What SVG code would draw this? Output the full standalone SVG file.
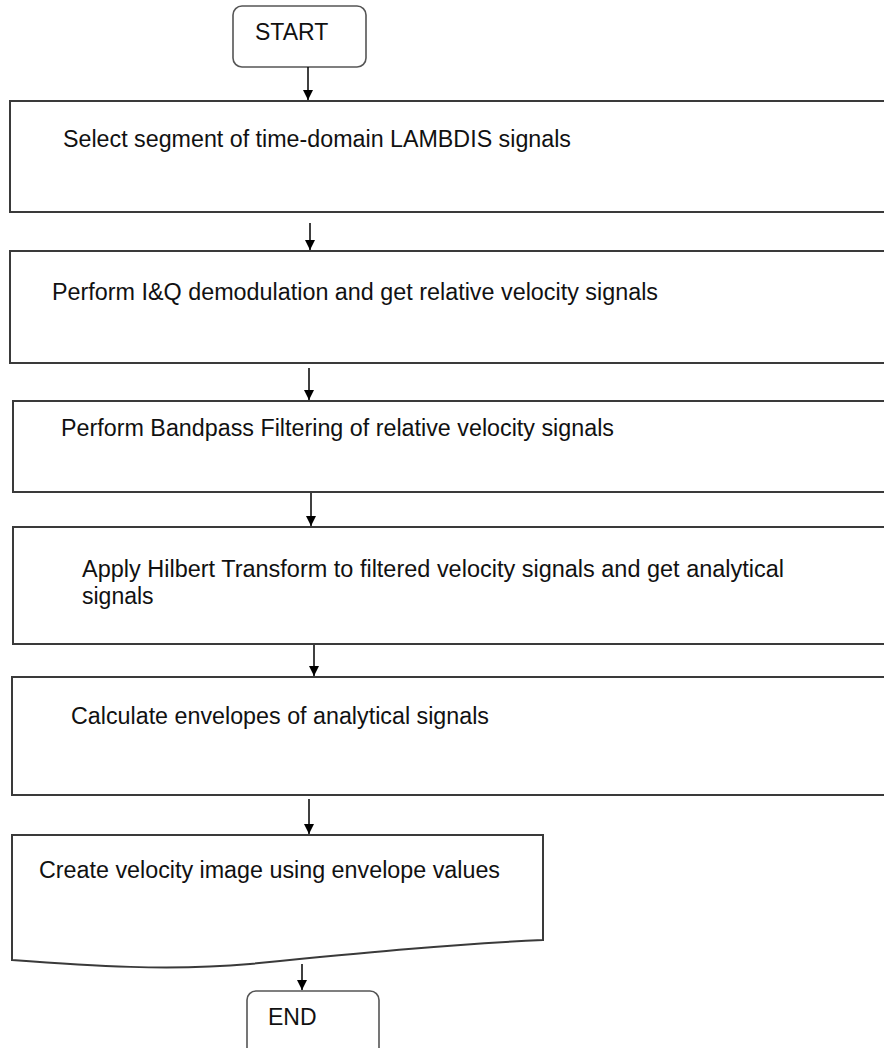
<svg xmlns="http://www.w3.org/2000/svg" width="884" height="1048" viewBox="0 0 884 1048">
<defs>
<marker id="ah" viewBox="0 0 10 10" refX="10" refY="5" markerWidth="10" markerHeight="10" markerUnits="userSpaceOnUse" orient="auto">
<path d="M0,0 L10,5 L0,10 z" fill="#000"/>
</marker>
<style>
.box{fill:#fff;stroke:#3a3a3a;stroke-width:2}
.term{fill:#fff;stroke:#555;stroke-width:1.6}
.t{font-family:"Liberation Sans",Arial,sans-serif;font-size:23px;fill:#111}
.c{stroke:#000;stroke-width:1.5;fill:none;marker-end:url(#ah)}
</style>
</defs>
<rect width="884" height="1048" fill="#fff"/>
<g id="start">
<rect class="term" x="233" y="6" width="133" height="61" rx="9"/>
<text class="t" x="255" y="40">START</text>
</g>
<g id="step1">
<rect class="box" x="10" y="101" width="890" height="111"/>
<text class="t" x="63" y="147" textLength="508" lengthAdjust="spacingAndGlyphs">Select segment of time-domain LAMBDIS signals</text>
</g>
<g id="step2">
<rect class="box" x="10" y="251" width="890" height="112"/>
<text class="t" x="52" y="300" textLength="606" lengthAdjust="spacingAndGlyphs">Perform I&amp;Q demodulation and get relative velocity signals</text>
</g>
<g id="step3">
<rect class="box" x="13" y="401" width="890" height="91"/>
<text class="t" x="61" y="436" textLength="553" lengthAdjust="spacingAndGlyphs">Perform Bandpass Filtering of relative velocity signals</text>
</g>
<g id="step4">
<rect class="box" x="13" y="527" width="890" height="117"/>
<text class="t" x="82" y="577" textLength="702" lengthAdjust="spacingAndGlyphs">Apply Hilbert Transform to filtered velocity signals and get analytical</text>
<text class="t" x="82" y="604">signals</text>
</g>
<g id="step5">
<rect class="box" x="12" y="677" width="890" height="118"/>
<text class="t" x="71" y="724" textLength="418" lengthAdjust="spacingAndGlyphs">Calculate envelopes of analytical signals</text>
</g>
<g id="step6">
<path class="box" d="M12,835 L543,835 L543,940 C450,944 350,954 250,964 C170,971 90,966 12,960 Z"/>
<text class="t" x="39" y="878" textLength="461" lengthAdjust="spacingAndGlyphs">Create velocity image using envelope values</text>
</g>
<g id="end">
<rect class="term" x="247" y="991" width="132" height="70" rx="9"/>
<text class="t" x="268" y="1025">END</text>
</g>
<g id="connectors">
<line class="c" x1="308" y1="67" x2="308" y2="100"/>
<line class="c" x1="310" y1="223" x2="310" y2="250"/>
<line class="c" x1="309" y1="368" x2="309" y2="400"/>
<line class="c" x1="311" y1="493" x2="311" y2="526"/>
<line class="c" x1="314" y1="645" x2="314" y2="676"/>
<line class="c" x1="309" y1="799" x2="309" y2="834"/>
<line class="c" x1="302" y1="964" x2="302" y2="990"/>
</g>
</svg>
